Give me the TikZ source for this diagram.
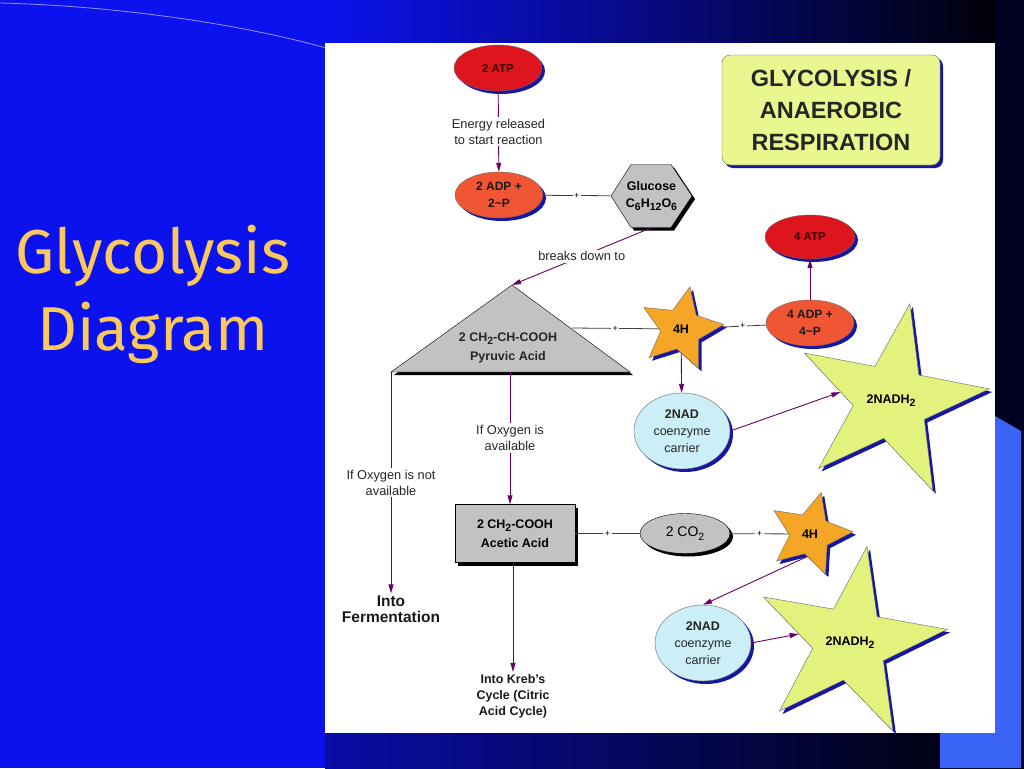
\documentclass[tikz,border=0pt]{standalone}
\usepackage{fontspec}
\setmainfont{Liberation Sans}
\newfontfamily\slidefont{Fira Sans}
\usetikzlibrary{shapes.geometric,shadows,arrows.meta}

\definecolor{slideblue}{RGB}{12,18,238}
\definecolor{panelblue}{RGB}{58,100,245}
\definecolor{atpred}{RGB}{222,20,30}
\definecolor{adporange}{RGB}{240,86,52}
\definecolor{starorange}{RGB}{246,166,38}
\definecolor{nadcyan}{RGB}{204,238,246}
\definecolor{nadhgreen}{RGB}{226,242,124}
\definecolor{titlegreen}{RGB}{234,246,142}
\definecolor{boxgray}{RGB}{194,194,194}
\definecolor{flowpurple}{RGB}{104,0,104}
\definecolor{shadowblue}{RGB}{22,22,165}
\definecolor{titlegold}{RGB}{250,200,92}

\newcommand{\lblfont}{\fontsize{12.8}{16}\selectfont}
\newcommand{\nodefont}{\fontsize{12.5}{17}\selectfont}
\newcommand{\chemsub}[1]{\raisebox{-0.45ex}{\fontsize{10.5}{10.5}\selectfont#1}}

\tikzset{
  bshadow/.style={general shadow={fill=shadowblue, shadow xshift=3pt, shadow yshift=-3pt}},
  kshadow/.style={general shadow={fill=black, shadow xshift=3pt, shadow yshift=-3pt}},
  atp/.style={ellipse, draw=black!60, fill=atpred, inner sep=0pt, minimum width=88pt, minimum height=46pt,
    font=\fontsize{11.5}{14}\selectfont\bfseries, text=black!75!red, bshadow},
  adp/.style={atp, fill=adporange, align=center, text=black!90, font=\fontsize{12}{17}\selectfont\bfseries},
  nad/.style={ellipse, draw=black!60, fill=nadcyan, inner sep=0pt, minimum width=96pt, minimum height=76pt,
    align=center, font=\nodefont, text=black!85, bshadow},
  hstar/.style={star, star points=5, star point ratio=2.1, minimum size=86pt, inner sep=0pt, draw=black!60,
    fill=starorange, font=\nodefont\bfseries, bshadow, shape border rotate=-12},
  bigstar/.style={hstar, star point ratio=2.6, minimum size=198pt, fill=nadhgreen},
  grayshape/.style={fill=boxgray, draw=black, kshadow},
  flowarrow/.style={draw=flowpurple, line width=0.9pt, -{Triangle[length=9pt,width=5pt]}},
  joinline/.style={draw=black!75, line width=0.8pt},
  plusmark/.style={fill=white, inner sep=1.5pt, font=\fontsize{9}{9}\selectfont},
  lbl/.style={fill=white, align=center, inner sep=2pt, font=\lblfont, text=black!85},
  endlbl/.style={align=center, inner sep=2pt, text=black!90},
  slidetitle/.style={anchor=base, text=titlegold, font=\slidefont\fontsize{62}{62}\selectfont}
}

\begin{document}
\begin{tikzpicture}[x=1pt,y=-1pt]
  \useasboundingbox (0,0) rectangle (1024,768);
  % slide background
  \fill[slideblue] (0,0) rectangle (1024,768);
  \shade[left color=slideblue, right color=black] (325,0) rectangle (1024,44);
  \shade[left color=slideblue!70!black, right color=black] (325,732) rectangle (1024,768);
  \fill[black!88!blue] (995,0) rectangle (1024,768);
  \fill[panelblue] (995,416) -- (1021,431) -- (1021,768) -- (940,768) -- (940,733) -- (995,733) -- cycle;
  \draw[white!55!slideblue, line width=0.8pt] (0,3) .. controls (120,6) and (250,25) .. (340,52);
  \fill[white] (325,43) rectangle (995,733);

  % slide title
  \node[slidetitle] (tGlycolysis) at (153,273) {Glycolysis};
  \node[slidetitle] (tDiagram) at (153,350) {Diagram};

  % title box
  \node[draw=black!60, fill=titlegreen, rounded corners=8pt, bshadow, minimum width=218pt, minimum height=110pt,
    align=center, font=\fontsize{23.5}{32}\selectfont\bfseries, text=black!85] (title) at (831,110)
    {GLYCOLYSIS /\\ANAEROBIC\\RESPIRATION};

  % glucose and pyruvic acid
  \filldraw[grayshape] (611,196) -- (631,164.5) -- (671,164.5) -- (692,196) -- (671,227.5) -- (631,227.5) -- cycle;
  \node[inner sep=0pt, minimum width=82pt, minimum height=63pt, align=center, font=\nodefont\bfseries] (glucose)
    at (651.5,196) {Glucose\\C\chemsub{6}H\chemsub{12}O\chemsub{6}};
  \coordinate (pyrtop) at (512,285);
  \coordinate (pyrright) at (630,372);
  \coordinate (pyrleft) at (391,372);
  \coordinate (pyrside) at (572,328);
  \coordinate (pyrbase) at (510,372);
  \filldraw[grayshape] (pyrtop) -- (pyrright) -- (pyrleft) -- cycle;
  \node[align=center, font=\nodefont\bfseries, text=black!85] (pyr) at (508,347.5)
    {2 CH\chemsub{2}-CH-COOH\\[2pt]Pyruvic Acid};

  % ellipses, stars and boxes
  \node[atp] (atp2) at (498,68) {2 ATP};
  \node[adp] (adp2) at (499,195) {2 ADP +\\2\textasciitilde P};
  \node[atp, minimum width=90pt, minimum height=44pt] (atp4) at (810,237) {4 ATP};
  \node[adp] (adp4) at (810,323) {4 ADP +\\4\textasciitilde P};
  \node[hstar] (h4a) at (681,329) {4H};
  \node[nad] (nad1) at (682,431) {\textbf{2NAD}\\coenzyme\\carrier};
  \node[bigstar, shape border rotate=-11] (nadh1) at (891,401) {2NADH\chemsub{2}};
  \node[grayshape, minimum width=120pt, minimum height=58pt, align=center, font=\nodefont\bfseries]
    (acetic) at (515,533.5) {2 CH\chemsub{2}-COOH\\[2pt]Acetic Acid};
  \node[ellipse, grayshape, minimum width=90pt, minimum height=40pt, inner sep=0pt, font=\fontsize{14}{14}\selectfont]
    (co2) at (685,533.5) {2 CO\chemsub{2}};
  \node[hstar, shape border rotate=-15] (h4b) at (810,534) {4H};
  \node[nad] (nad2) at (703,643) {\textbf{2NAD}\\coenzyme\\carrier};
  \node[bigstar, minimum size=196pt, shape border rotate=-10] (nadh2) at (850,643) {2NADH\chemsub{2}};
  \node[endlbl, font=\fontsize{15.5}{16}\selectfont\bfseries] (ferment) at (391,609) {Into\\Fermentation};
  \node[endlbl, font=\fontsize{12.5}{16}\selectfont\bfseries] (krebs) at (513,696)
    {Into Kreb's\\Cycle (Citric\\Acid Cycle)};

  % connectors
  \draw[flowarrow] (atp2) -- node[lbl] {Energy released\\to start reaction} (adp2);
  \draw[joinline] (adp2) -- node[plusmark] {+} (glucose);
  \draw[flowarrow] (glucose.south) -- node[lbl] {breaks down to} (pyrtop);
  \draw[joinline] (pyrside) -- node[plusmark] {+} (h4a);
  \draw[joinline] (h4a) -- node[plusmark] {+} (adp4);
  \draw[flowarrow] (adp4) -- (atp4);
  \draw[flowarrow] (h4a) -- (nad1);
  \draw[flowarrow] (nad1.east) -- (nadh1.170);
  \draw[flowarrow] (pyrbase) -- node[lbl] {If Oxygen is\\available} (pyrbase |- acetic.north);
  \draw[flowarrow] (pyrleft) -- node[lbl] {If Oxygen is not\\available} (pyrleft |- ferment.north);
  \draw[joinline] (acetic) -- node[plusmark] {+} (co2);
  \draw[joinline] (co2) -- node[plusmark] {+} (h4b);
  \draw[flowarrow] (h4b.-97) -- (nad2.north);
  \draw[flowarrow] (nad2.east) -- (nadh2.170);
  \draw[flowarrow] (acetic.south -| krebs.north) -- (krebs.north);
\end{tikzpicture}
\end{document}
